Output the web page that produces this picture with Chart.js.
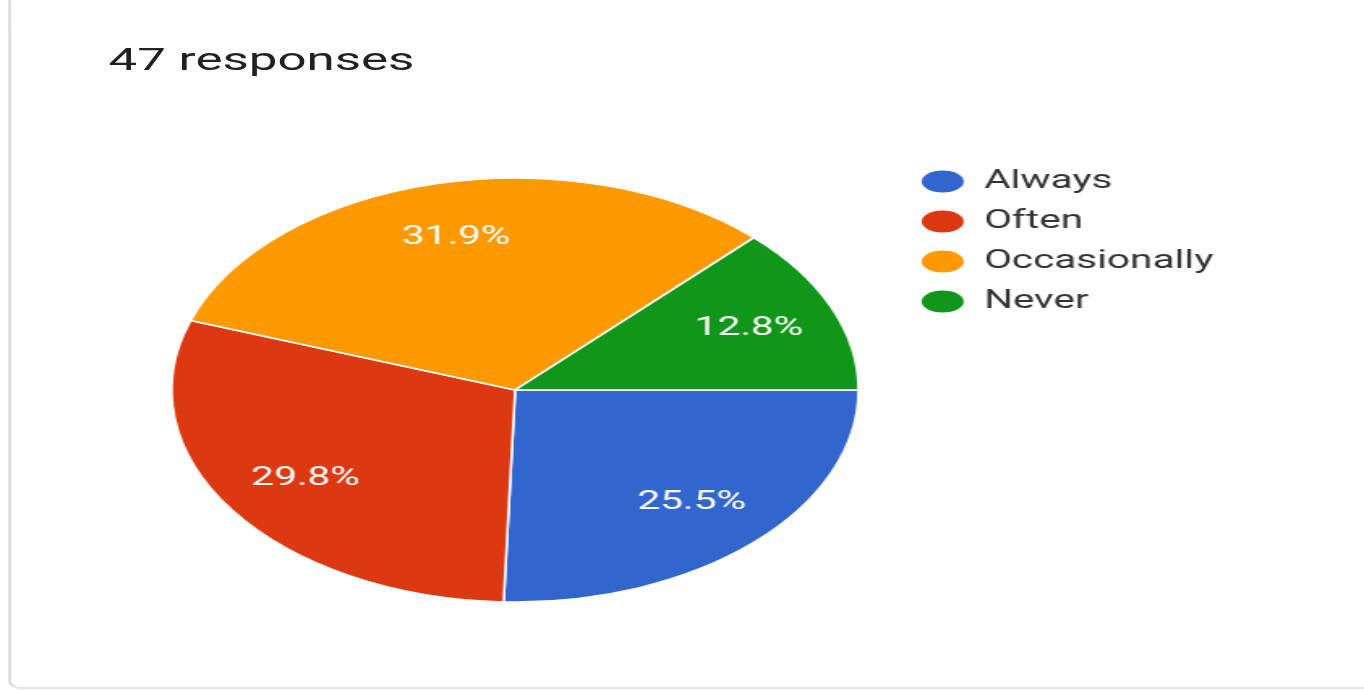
<!DOCTYPE html>
<html>
<head>
<meta charset="utf-8">
<script src="https://cdn.jsdelivr.net/npm/chart.js@4/dist/chart.umd.min.js"></script>
<style>
    html, body {
        margin: 0;
        padding: 0;
        background: #fff;
        overflow: hidden;
    }
    /* the whole card is drawn narrow, then widened */
    #stage {
        position: absolute;
        left: 0;
        top: 0;
        width: 842px;
        height: 692px;
        transform: scaleX(1.62);
        transform-origin: 0 0;
    }
    .card {
        position: absolute;
        left: 5px;
        top: -20px;
        width: 900px;
        height: 707px;
        border-left: 2px solid #dcdcdc;
        border-bottom: 2px solid #e4e4e4;
        border-bottom-left-radius: 8px;
    }
    .count {
        position: absolute;
        left: 67px;
        top: 43.5px;
        font: 31.5px Roboto, sans-serif;
        line-height: 31.5px;
        color: #212121;
        white-space: nowrap;
    }
    #pie-wrap {
        position: absolute;
        left: 81.5px;
        top: 151px;
    }
</style>
</head>
<body>
<div id="stage">
    <div class="card"></div>
    <div class="count" id="count"></div>
    <div id="pie-wrap"><canvas id="my-chart" width="677" height="478"></canvas></div>
</div>
<script>
const answers = ["Always", "Often", "Occasionally", "Never"];
const responses = [12, 14, 15, 6];
const sliceColors = ["#3366cc", "#dc3912", "#ff9900", "#109618"];

const total = responses.reduce((a, b) => a + b, 0);
document.querySelector("#count").textContent = `${total} responses`;

// percentage text in the middle of each slice
const sliceLabels = {
    id: "sliceLabels",
    afterDatasetsDraw(chart) {
        const ctx = chart.ctx;
        const meta = chart.getDatasetMeta(0);
        ctx.save();
        ctx.font = "25px Roboto, sans-serif";
        ctx.fillStyle = "#ffffff";
        ctx.textAlign = "center";
        ctx.textBaseline = "middle";
        meta.data.forEach((arc, i) => {
            const mid = (arc.startAngle + arc.endAngle) / 2;
            const r = arc.outerRadius * 0.74;
            const pct = (responses[i] / total * 100).toFixed(1) + "%";
            ctx.fillText(pct, arc.x + Math.cos(mid) * r, arc.y + Math.sin(mid) * r);
        });
        ctx.restore();
    }
};

const baseLabels = Chart.overrides.pie.plugins.legend.labels.generateLabels;

const ctx = document.getElementById("my-chart").getContext("2d");
const myChart = new Chart(ctx, {
    type: "pie",
    data: {
        labels: answers,
        datasets: [
            {
                data: responses,
                backgroundColor: sliceColors,
                borderColor: "#ffffff",
                borderWidth: 1.5,
                radius: 212
            }
        ]
    },
    options: {
        responsive: false,
        animation: false,
        rotation: 90,
        layout: {
            padding: { top: 3, right: 0, bottom: 3, left: 0 }
        },
        plugins: {
            tooltip: { enabled: false },
            legend: {
                position: "right",
                align: "start",
                labels: {
                    usePointStyle: true,
                    pointStyle: "circle",
                    pointStyleWidth: 26,
                    boxHeight: 15.6,
                    padding: 15,
                    color: "#333333",
                    font: { family: "Roboto", size: 25 },
                    generateLabels(chart) {
                        return baseLabels(chart).map(item => {
                            item.lineWidth = 0;
                            return item;
                        });
                    }
                }
            }
        }
    },
    plugins: [sliceLabels]
});
</script>
</body>
</html>
